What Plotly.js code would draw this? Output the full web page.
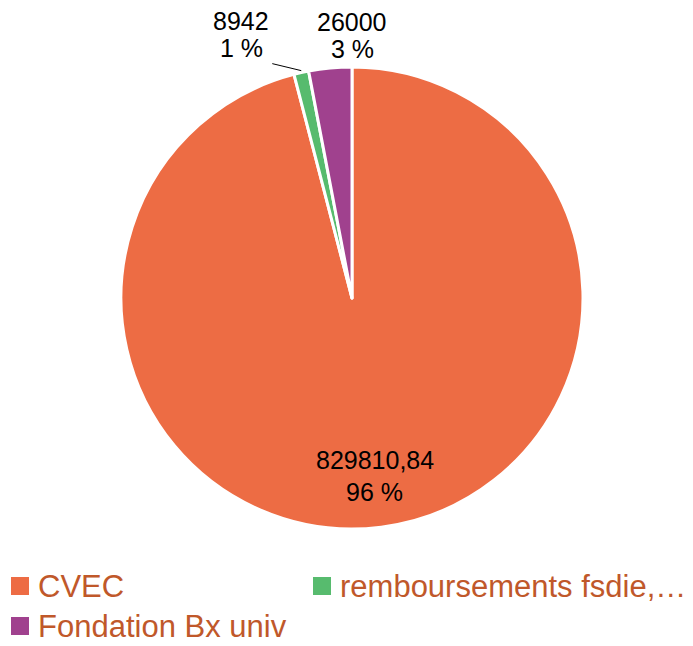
<!DOCTYPE html>
<html><head><meta charset="utf-8">
<script src="https://cdn.plot.ly/plotly-3.0.1.min.js"></script>
<style>html,body{margin:0;padding:0;background:#fff}</style>
</head><body>
<div id="chart" style="width:693px;height:646px"></div>
<script>
const categories = ['CVEC', 'remboursements fsdie,…', 'Fondation Bx univ'];
const values = [829810.84, 8942, 26000];
const colors = ['#ED6C44', '#57BB6E', '#A0418E'];

const W = 693, H = 646;
const cx = 352, cy = 298, R = 231;           // pie geometry in px
const FONT = 'Liberation Sans, Arial, sans-serif';
const px = x => x / W, py = y => 1 - y / H;

const total = values.reduce((a, b) => a + b, 0);
const valueText = values.map(v => String(v).replace('.', ','));
const pctText = values.map(v => Math.round(v / total * 100) + ' %');

// mid angles (clockwise from 12 o'clock)
let acc = 0;
const midAngles = values.map(v => { const m = (acc + v / 2) / total * 2 * Math.PI; acc += v; return m; });
const pt = (ang, f) => [cx + f * R * Math.sin(ang), cy - f * R * Math.cos(ang)];

const trace = {
  type: 'pie',
  labels: categories,
  values: values,
  textinfo: 'none',
  sort: false,
  direction: 'clockwise',
  rotation: 0,
  marker: {colors: colors, line: {color: '#ffffff', width: 3}},
  domain: {x: [px(cx - R), px(cx + R)], y: [py(cy + R), py(cy - R)]},
  hoverinfo: 'none',
  showlegend: false
};

const annotations = [];
const shapes = [];
// label placement per slice: [radius fraction, dx, dy, line gap]
const labelPlace = [[0.775, 0, 0, 32], [1, -60, -38, 27], [1, 22, -33, 27]];
values.forEach((v, i) => {
  const [f, dx, dy, gap] = labelPlace[i];
  const [ex, ey] = pt(midAngles[i], f);
  const lx = ex + dx, ly = ey + dy;
  annotations.push({x: px(lx), y: py(ly - gap / 2), xref: 'paper', yref: 'paper', text: valueText[i],
    showarrow: false, xanchor: 'center', yanchor: 'middle', font: {family: FONT, size: 25, color: '#000'}});
  annotations.push({x: px(lx), y: py(ly + gap / 2), xref: 'paper', yref: 'paper', text: pctText[i],
    showarrow: false, xanchor: 'center', yanchor: 'middle', font: {family: FONT, size: 25, color: '#000'}});
  if (i === 1) {
    shapes.push({type: 'line', xref: 'paper', yref: 'paper',
      x0: px(ex), y0: py(ey - 2), x1: px(ex - 29), y1: py(ey - 9),
      line: {color: '#000', width: 1}});
  }
});

// custom legend (two columns)
const legPos = [[11, 586], [313, 586], [11, 626]];
categories.forEach((c, i) => {
  const [lx, ly] = legPos[i];
  shapes.push({type: 'rect', xref: 'paper', yref: 'paper',
    x0: px(lx), x1: px(lx + 18), y0: py(ly + 9), y1: py(ly - 9),
    fillcolor: colors[i], line: {width: 0}});
  annotations.push({x: px(lx + 25), y: py(ly), xref: 'paper', yref: 'paper', text: c,
    showarrow: false, xanchor: 'left', yanchor: 'middle',
    font: {family: FONT, size: 31, color: '#C0582A'}});
});

const layout = {
  width: W, height: H,
  margin: {l: 0, r: 0, t: 0, b: 0},
  paper_bgcolor: '#ffffff',
  showlegend: false,
  annotations: annotations,
  shapes: shapes
};

Plotly.newPlot('chart', [trace], layout, {displayModeBar: false, staticPlot: true});
</script>
</body></html>
